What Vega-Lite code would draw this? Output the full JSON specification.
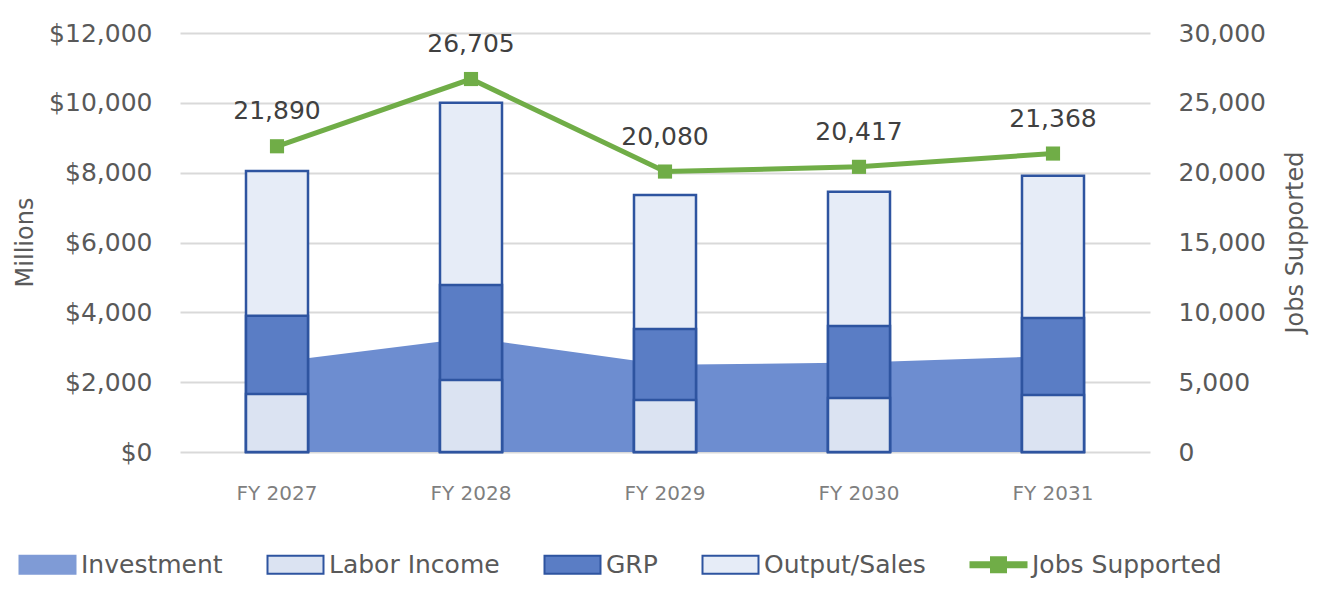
{
  "$schema": "https://vega.github.io/schema/vega-lite/v6.json",
  "width": 970,
  "height": 419,
  "autosize": "none",
  "padding": {"left": 180, "top": 33, "right": 182, "bottom": 138},
  "background": "white",
  "config": {
    "font": "DejaVu Sans",
    "view": {"stroke": null},
    "legend": {
      "orient": "none",
      "legendX": -163,
      "legendY": 519,
      "direction": "horizontal",
      "labelFontSize": 25,
      "labelColor": "#595959",
      "labelLimit": 400,
      "symbolSize": 400,
      "symbolStrokeWidth": 2,
      "symbolOpacity": 1,
      "labelOffset": 39,
      "columnPadding": 40
    }
  },
  "data": {
    "values": [
      {"year": "FY 2027", "series": "Investment", "value": 2580},
      {"year": "FY 2028", "series": "Investment", "value": 3270},
      {"year": "FY 2029", "series": "Investment", "value": 2500},
      {"year": "FY 2030", "series": "Investment", "value": 2560},
      {"year": "FY 2031", "series": "Investment", "value": 2750},
      {"year": "FY 2027", "series": "Output/Sales", "value": 8050},
      {"year": "FY 2028", "series": "Output/Sales", "value": 10000},
      {"year": "FY 2029", "series": "Output/Sales", "value": 7360},
      {"year": "FY 2030", "series": "Output/Sales", "value": 7450},
      {"year": "FY 2031", "series": "Output/Sales", "value": 7910},
      {"year": "FY 2027", "series": "GRP", "value": 3900},
      {"year": "FY 2028", "series": "GRP", "value": 4780},
      {"year": "FY 2029", "series": "GRP", "value": 3520},
      {"year": "FY 2030", "series": "GRP", "value": 3610},
      {"year": "FY 2031", "series": "GRP", "value": 3840},
      {"year": "FY 2027", "series": "Labor Income", "value": 1660},
      {"year": "FY 2028", "series": "Labor Income", "value": 2060},
      {"year": "FY 2029", "series": "Labor Income", "value": 1490},
      {"year": "FY 2030", "series": "Labor Income", "value": 1550},
      {"year": "FY 2031", "series": "Labor Income", "value": 1630},
      {"year": "FY 2027", "series": "Jobs Supported", "value": 21890},
      {"year": "FY 2028", "series": "Jobs Supported", "value": 26705},
      {"year": "FY 2029", "series": "Jobs Supported", "value": 20080},
      {"year": "FY 2030", "series": "Jobs Supported", "value": 20417},
      {"year": "FY 2031", "series": "Jobs Supported", "value": 21368}
    ]
  },
  "encoding": {
    "x": {
      "field": "year",
      "type": "nominal",
      "sort": null,
      "scale": {"paddingInner": 0, "paddingOuter": 0},
      "axis": {
        "title": null,
        "labelAngle": 0,
        "labelFontSize": 20,
        "labelColor": "#7f7f7f",
        "labelPadding": 31,
        "ticks": false,
        "domain": false
      }
    }
  },
  "layer": [
    {
      "transform": [{"filter": "datum.series == 'Investment'"}],
      "mark": {"type": "area", "color": "#6d8dd0"},
      "encoding": {
        "y": {
          "field": "value",
          "type": "quantitative",
          "scale": {"domain": [0, 12000]},
          "axis": {
            "values": [0, 2000, 4000, 6000, 8000, 10000, 12000],
            "format": "$,.0f",
            "labelFontSize": 25,
            "labelColor": "#595959",
            "labelPadding": 28,
            "ticks": false,
            "domain": false,
            "grid": true,
            "gridColor": "#d9d9d9",
            "gridWidth": 2,
            "title": "Millions",
            "titleFontSize": 24,
            "titleFontWeight": "normal",
            "titleColor": "#595959",
            "titleAngle": -90,
            "titleBaseline": "middle",
            "titleX": -155,
            "titleY": 209
          }
        }
      }
    },
    {
      "transform": [{"filter": "datum.series == 'Output/Sales'"}],
      "mark": {"type": "bar", "size": 62, "fill": "#e6ecf7", "stroke": "#2e54a0", "strokeWidth": 2.5},
      "encoding": {
        "y": {"field": "value", "type": "quantitative", "stack": null, "scale": {"domain": [0, 12000]}, "axis": null}
      }
    },
    {
      "transform": [{"filter": "datum.series == 'GRP'"}],
      "mark": {"type": "bar", "size": 62, "fill": "#5a7dc5", "stroke": "#2e54a0", "strokeWidth": 2.5},
      "encoding": {
        "y": {"field": "value", "type": "quantitative", "stack": null, "scale": {"domain": [0, 12000]}, "axis": null}
      }
    },
    {
      "transform": [{"filter": "datum.series == 'Labor Income'"}],
      "mark": {"type": "bar", "size": 62, "fill": "#dbe3f2", "stroke": "#2e54a0", "strokeWidth": 2.5},
      "encoding": {
        "y": {"field": "value", "type": "quantitative", "stack": null, "scale": {"domain": [0, 12000]}, "axis": null}
      }
    },
    {
      "transform": [{"filter": "datum.series == 'Jobs Supported'"}],
      "mark": {
        "type": "line",
        "color": "#70ad47",
        "strokeWidth": 5,
        "point": {"shape": "square", "size": 200, "filled": true, "color": "#70ad47"}
      },
      "encoding": {
        "y": {
          "field": "value",
          "type": "quantitative",
          "scale": {"domain": [0, 30000]},
          "axis": {
            "orient": "right",
            "values": [0, 5000, 10000, 15000, 20000, 25000, 30000],
            "format": ",.0f",
            "labelFontSize": 25,
            "labelColor": "#595959",
            "labelPadding": 28,
            "ticks": false,
            "domain": false,
            "grid": false,
            "title": "Jobs Supported",
            "titleFontSize": 24,
            "titleFontWeight": "normal",
            "titleColor": "#595959",
            "titleAngle": -90,
            "titleBaseline": "middle",
            "titleX": 145,
            "titleY": 209
          }
        }
      }
    },
    {
      "transform": [{"filter": "datum.series == 'Jobs Supported'"}],
      "mark": {"type": "text", "dy": -35, "fontSize": 25, "color": "#404040"},
      "encoding": {
        "y": {"field": "value", "type": "quantitative", "scale": {"domain": [0, 30000]}, "axis": null},
        "text": {"field": "value", "type": "quantitative", "format": ",.0f"}
      }
    },
    {
      "mark": {"type": "point", "filled": true, "opacity": 0},
      "encoding": {
        "fill": {
          "field": "series",
          "type": "nominal",
          "scale": {
            "domain": ["Investment", "Labor Income", "GRP", "Output/Sales", "Jobs Supported"],
            "range": ["#7f9bd6", "#dbe3f2", "#5a7dc5", "#e6ecf7", "#70ad47"]
          },
          "legend": {"title": null}
        },
        "stroke": {
          "field": "series",
          "type": "nominal",
          "scale": {
            "domain": ["Investment", "Labor Income", "GRP", "Output/Sales", "Jobs Supported"],
            "range": ["#7f9bd6", "#2e54a0", "#2e54a0", "#2e54a0", "#70ad47"]
          },
          "legend": {"title": null}
        },
        "shape": {
          "field": "series",
          "type": "nominal",
          "scale": {
            "domain": ["Investment", "Labor Income", "GRP", "Output/Sales", "Jobs Supported"],
            "range": [
              "M-1,-0.9H4.6V0.9H-1Z",
              "M-1,-0.9H4.6V0.9H-1Z",
              "M-1,-0.9H4.6V0.9H-1Z",
              "M-1,-0.9H4.6V0.9H-1Z",
              "M-1,-0.25H1.05V-0.75H2.55V-0.25H4.6V0.25H2.55V0.75H1.05V0.25H-1Z"
            ]
          },
          "legend": {"title": null}
        }
      }
    }
  ],
  "resolve": {"scale": {"y": "independent"}}
}
